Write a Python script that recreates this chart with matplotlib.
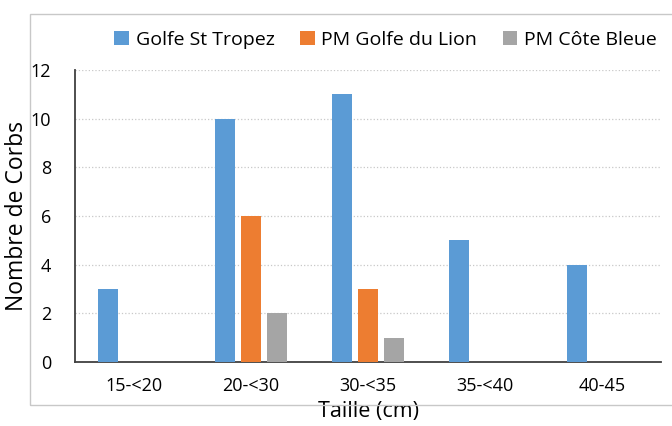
import numpy as np
from matplotlib import pyplot as plt
from matplotlib.patches import Rectangle

categories = ["15-<20", "20-<30", "30-<35", "35-<40", "40-45"]
st_tropez = [3, 10, 11, 5, 4]
golfe_lion = [0, 6, 3, 0, 0]
cote_bleue = [0, 2, 1, 0, 0]
series = ["Golfe St Tropez", "PM Golfe du Lion", "PM Côte Bleue"]
colors = ["#5B9BD5", "#ED7D31", "#A5A5A5"]

plt.rcParams['font.family'] = ['Open Sans', 'DejaVu Sans']

fig = plt.figure(figsize=(6.72, 4.26), dpi=100)
ax = fig.add_axes([75 / 672, 1 - 362 / 426, (661 - 75) / 672, (362 - 70) / 426])

# light frame around the plot area
fig.patches.append(Rectangle((30 / 672, 1 - 405 / 426), 1.0, (405 - 14) / 426,
                             transform=fig.transFigure, fill=False,
                             edgecolor="#c8c8c8", linewidth=1.0))

x = np.arange(len(categories))
width = 0.17
step = 0.22
for i, (vals, name, c) in enumerate(zip([st_tropez, golfe_lion, cote_bleue], series, colors)):
    ax.bar(x + (i - 1) * step, vals, width, color=c, label=name, zorder=3)

ax.set_xlim(-0.5, len(categories) - 0.5)
ax.set_ylim(0, 12)
ax.set_yticks(range(0, 13, 2))
ax.set_xticks(x)
ax.set_xticklabels(categories, fontsize=13)
ax.tick_params(axis='y', labelsize=13, length=0, pad=17)
ax.tick_params(axis='x', length=0, pad=11)
ax.grid(axis='y', color="#c8c8c8", linestyle=":", linewidth=0.9, zorder=0)
for s in ["top", "right"]:
    ax.spines[s].set_visible(False)
ax.spines["left"].set_color("#404040")
ax.spines["bottom"].set_color("#404040")
ax.spines["left"].set_linewidth(1.3)
ax.spines["bottom"].set_linewidth(1.3)

ax.set_ylabel("Nombre de Corbs", fontsize=16.5, labelpad=1)
ax.set_xlabel("Taille (cm)", fontsize=15.5, labelpad=4)

ax.legend(loc="lower center", bbox_to_anchor=(0.53, 1.045), ncol=3, frameon=False,
          fontsize=14, handlelength=0.75, handleheight=0.75, handletextpad=0.35,
          columnspacing=1.3, borderaxespad=0)

fig.savefig("out.png", dpi=100)
